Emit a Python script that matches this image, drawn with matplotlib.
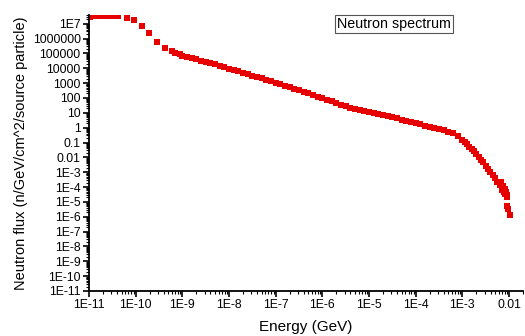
import numpy as np
from matplotlib import pyplot as plt
from matplotlib.ticker import FixedLocator, LogLocator, NullFormatter

plt.rcParams['font.family'] = ['Liberation Sans', 'DejaVu Sans']

# energies (GeV) and neutron flux
energy = [1.05e-11, 1.35e-11, 1.78e-11, 2.4e-11, 3.16e-11, 4.27e-11, 6.5e-11,
          9.1e-11, 1.35e-10, 1.95e-10, 2.9e-10, 4.3e-10, 5.9e-10, 7.1e-10,
          8.7e-10,
          1.0e-9, 1.26e-9, 1.58e-9, 2.0e-9, 2.51e-9, 3.16e-9, 3.98e-9, 5.01e-9, 6.31e-9, 7.94e-9,
          1.0e-8, 1.26e-8, 1.58e-8, 2.0e-8, 2.51e-8, 3.16e-8, 3.98e-8, 5.01e-8, 6.31e-8, 7.94e-8,
          1.0e-7, 1.26e-7, 1.58e-7, 2.0e-7, 2.51e-7, 3.16e-7, 3.98e-7, 5.01e-7, 6.31e-7, 7.94e-7,
          1.0e-6, 1.26e-6, 1.58e-6, 2.0e-6, 2.51e-6, 3.16e-6, 3.98e-6, 5.01e-6, 6.31e-6, 7.94e-6,
          1.0e-5, 1.26e-5, 1.58e-5, 2.0e-5, 2.51e-5, 3.16e-5, 3.98e-5, 5.01e-5, 6.31e-5, 7.94e-5,
          1.0e-4, 1.26e-4, 1.58e-4, 2.0e-4, 2.51e-4, 3.16e-4, 3.98e-4, 5.01e-4, 6.31e-4, 7.94e-4,
          1.0e-3, 1.12e-3, 1.26e-3, 1.41e-3, 1.58e-3, 1.78e-3, 2.0e-3, 2.24e-3, 2.51e-3, 2.82e-3,
          3.16e-3, 3.55e-3, 3.98e-3, 4.47e-3, 5.01e-3, 5.62e-3, 6.31e-3, 6.6e-3, 6.9e-3, 7.1e-3,
          7.4e-3, 7.7e-3, 8.0e-3, 8.3e-3, 8.6e-3, 8.9e-3, 9.1e-3, 9.2e-3, 9.6e-3, 1.02e-2]
flux = [2.8e7, 3.1e7, 3.45e7, 3.45e7, 3.45e7, 3.1e7, 2.6e7,
        1.65e7, 7.4e6, 2.2e6, 5.5e5, 2.3e5, 1.35e5, 1.05e5,
        8.5e4,
        7.1e4, 5.8e4, 4.7e4, 3.9e4, 3.2e4, 2.7e4, 2.2e4, 1.8e4, 1.5e4, 1.2e4,
        9.5e3, 7.8e3, 6.2e3, 5.0e3, 4.0e3, 3.2e3, 2.6e3, 2.1e3, 1.7e3, 1.35e3,
        1.07e3, 870, 690, 540, 425, 330, 260, 205, 160, 125,
        98, 76, 59, 46, 35, 27, 22, 19, 16, 13.5,
        11.5, 9.8, 8.3, 6.9, 5.9, 4.9, 4.2, 3.5, 2.9, 2.4,
        2.0, 1.66, 1.38, 1.15, 0.95, 0.79, 0.68, 0.52, 0.43, 0.28,
        0.15, 0.107, 0.076, 0.052, 0.035, 0.025, 0.017, 0.011, 7.1e-3, 4.5e-3,
        2.8e-3, 1.7e-3, 1.05e-3, 6.5e-4, 4.0e-4, 2.3e-4, 1.3e-4, 2.2e-4, 1.0e-4, 6.5e-5,
        1.1e-4, 4.5e-5, 7.0e-5, 3.5e-5, 5.0e-5, 2.8e-5, 2.2e-5, 5.0e-6, 3.5e-6, 1.3e-6]

xticks = [1e-11, 1e-10, 1e-9, 1e-8, 1e-7, 1e-6, 1e-5, 1e-4, 1e-3, 1e-2]
xlabels = ['1E-11', '1E-10', '1E-9', '1E-8', '1E-7', '1E-6', '1E-5', '1E-4', '1E-3', '0.01']
yticks = [10.0**k for k in range(7, -12, -1)]
ylabels = ['1E7', '1000000', '100000', '10000', '1000', '100', '10', '1', '0.1', '0.01',
           '1E-3', '1E-4', '1E-5', '1E-6', '1E-7', '1E-8', '1E-9', '1E-10', '1E-11']

fig = plt.figure(figsize=(5.25, 3.36), dpi=100)
ax = fig.add_axes([0.1695, 0.134, 0.827, 0.822])

ax.plot(energy, flux, 's', color='#e60000', ms=4.7, mec='#e60000', mew=0)

ax.set_xscale('log')
ax.set_yscale('log')
ax.set_xlim(1e-11, 2e-2)
ax.set_ylim(1e-11, 4e7)

ax.xaxis.set_major_locator(FixedLocator(xticks))
ax.set_xticklabels(xlabels)
ax.yaxis.set_major_locator(FixedLocator(yticks))
ax.set_yticklabels(ylabels)
ax.xaxis.set_minor_locator(LogLocator(base=10, subs=np.arange(2, 10), numticks=30))
ax.yaxis.set_minor_locator(LogLocator(base=10, subs=np.arange(2, 10), numticks=30))
ax.xaxis.set_minor_formatter(NullFormatter())
ax.yaxis.set_minor_formatter(NullFormatter())

ax.tick_params(which='major', direction='out', length=4, width=1.2, labelsize=8.8, pad=2)
ax.tick_params(which='minor', direction='out', length=2, width=0.8)

for s in ['top', 'right']:
    ax.spines[s].set_visible(False)
for s in ['left', 'bottom']:
    ax.spines[s].set_linewidth(1.3)

ax.set_xlabel('Energy (GeV)', fontsize=11, labelpad=6)
ax.set_ylabel('Neutron flux (n/GeV/cm^2/source particle)', fontsize=10.5, labelpad=3)

ax.text(0.703, 0.966, 'Neutron spectrum', transform=ax.transAxes, fontsize=10.3,
        ha='center', va='center',
        bbox=dict(boxstyle='square,pad=0.15', fc='white', ec='#555555', lw=0.8))

fig.savefig('out.png', dpi=100)
